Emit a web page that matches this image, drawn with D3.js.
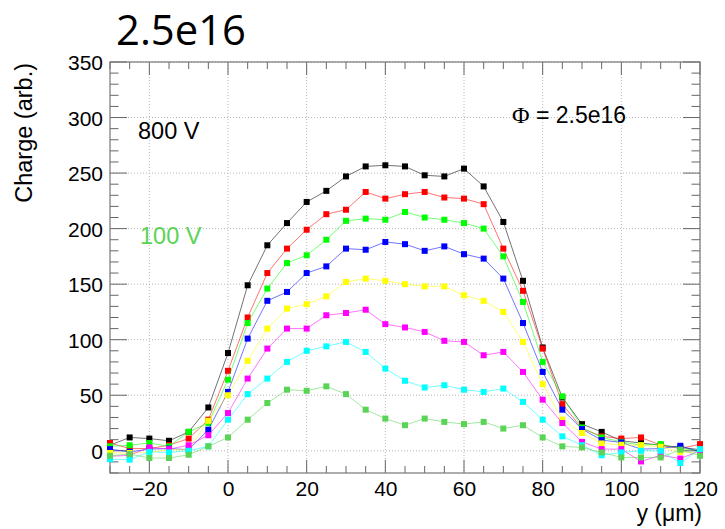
<!DOCTYPE html>
<html><head><meta charset="utf-8">
<script src="https://cdn.jsdelivr.net/npm/d3@7"></script>
<style>body{margin:0;background:#fff}svg{display:block}</style>
</head><body>
<svg id="c" width="725" height="529"></svg>
<script>
const yPos = [-30,-25,-20,-15,-10,-5,0,5,10,15,20,25,30,35,40,45,50,55,60,65,70,75,80,85,90,95,100,105,110,115,120];
const v800 = [5,12,11,9,17,39,88,149,185,205,224,234,247,256,257,256,248,247,254,238,206,153,93,48,24,17,9,7,5,3,1];
const v700 = [7,2,2,5,11,28,72,120,160,182,199,213,217,233,227,231,233,228,227,222,182,144,92,42,20,13,11,12,5,2,6];
const v600 = [4,5,7,4,17,25,64,115,146,169,176,190,207,209,208,215,210,208,205,200,175,134,80,49,21,12,8,5,6,2,0];
const v500 = [1.5,-1,1.5,2,1,19,53,101,135,143,160,166,182,181,188,186,180,184,177,173,155,115,71,37,19.5,9.6,7.5,1.5,2,4.5,-1];
const v400 = [-2,-2,-1.5,1,1,27,50,81,110,128,132,139,152,155,153,150,148,148,140,135,125,98,60,28,16,6.6,5.4,5,3.6,-1,-2];
const v300 = [-5,-4,3,1.5,5,14,34,65,92,110,110,122,124,127,114,111,107,99,98,86,89,71,46,25,8,1.5,1.5,-9.6,-4,-7,0];
const v200 = [-7.5,-8,-1,-1.5,0,4,28,51,65,80,90,94,98,89,74,63,57,59,55,53,56,44,28,13,5,-4,-1.5,0,0,-11,1.5];
const v100 = [-4.5,-3,-6.5,-6.5,-3.6,4,12,28,43,55,54,58,51,37,29,23,29,26,24,26,20,23,12,4,3,-1.5,-6,-6,-6,1,-4.5];
const seriesNames = ["800 V","700 V","600 V","500 V","400 V","300 V","200 V","100 V"];
const seriesColors = ["#000000","#ff0000","#00ff00","#0000ff","#ffff00","#ff00ff","#00ffff","#59d454"];
const seriesValues = [v800,v700,v600,v500,v400,v300,v200,v100];
const xMajor = [-20,0,20,40,60,80,100,120];
const yMajor = [0,50,100,150,200,250,300,350];

const L=110,R=700,T=62,B=473;
const svg = d3.select("#c");
const x = d3.scaleLinear().domain([-30,120]).range([L,R]);
const y = d3.scaleLinear().domain([-20,350]).range([B,T]);
const font = "'Liberation Sans', Arial, Helvetica, sans-serif";

// grid
const grid = svg.append("g").attr("stroke","#b8b8b8").attr("stroke-width",1).attr("stroke-dasharray","1,2");
xMajor.forEach(v=>grid.append("line").attr("x1",x(v)).attr("x2",x(v)).attr("y1",T).attr("y2",B));
yMajor.forEach(v=>grid.append("line").attr("x1",L).attr("x2",R).attr("y1",y(v)).attr("y2",y(v)));

// ticks (inside, all four sides)
const xMinor = d3.range(-30,121,5);
const yMinor = d3.range(-20,351,10);
const tg = svg.append("g").attr("stroke","#666").attr("stroke-width",1);
xMinor.forEach(v=>{
  const len = xMajor.includes(v)?13:7;
  tg.append("line").attr("x1",x(v)).attr("x2",x(v)).attr("y1",B).attr("y2",B-len);
  tg.append("line").attr("x1",x(v)).attr("x2",x(v)).attr("y1",T).attr("y2",T+len);
});
yMinor.forEach(v=>{
  const len = yMajor.includes(v)?17:8.5;
  tg.append("line").attr("x1",L).attr("x2",L+len).attr("y1",y(v)).attr("y2",y(v));
  tg.append("line").attr("x1",R).attr("x2",R-len).attr("y1",y(v)).attr("y2",y(v));
});

// axis labels
const xAxis = d3.axisBottom(x).tickValues(xMajor).tickSize(0).tickPadding(0)
  .tickFormat(d=>d<0?"\u2212"+Math.abs(d):String(d));
const gx = svg.append("g").attr("transform",`translate(0,${B})`).call(xAxis);
gx.select(".domain").remove();
gx.selectAll("text").attr("font-family",font).attr("font-size",21).attr("fill","#000").attr("dy",null).attr("y",23);
const yAxis = d3.axisLeft(y).tickValues(yMajor).tickSize(0).tickPadding(0);
const gy = svg.append("g").attr("transform",`translate(${L-7},0)`).call(yAxis);
gy.select(".domain").remove();
gy.selectAll("text").attr("font-family",font).attr("font-size",21).attr("fill","#000").attr("dy","0.36em");

// frame
svg.append("rect").attr("x",L).attr("y",T).attr("width",R-L).attr("height",B-T)
  .attr("fill","none").attr("stroke","#777").attr("stroke-width",1.2);

// series
const line = d3.line().x((d,i)=>x(yPos[i])).y(d=>y(d));
seriesValues.forEach((vals,k)=>{
  const g = svg.append("g");
  g.append("path").datum(vals).attr("d",line).attr("fill","none")
    .attr("stroke",seriesColors[k]).attr("stroke-width",1).attr("stroke-opacity",0.55);
  g.selectAll("rect").data(vals).join("rect")
    .attr("x",(d,i)=>x(yPos[i])-3).attr("y",d=>y(d)-3).attr("width",6).attr("height",6)
    .attr("fill",seriesColors[k]);
});

// texts
svg.append("text").attr("x",116).attr("y",45).attr("font-family","'Open Sans', 'Noto Sans', sans-serif")
  .attr("font-size",42).attr("textLength",130).attr("lengthAdjust","spacingAndGlyphs").attr("fill","#000").text("2.5e16");
svg.append("text").attr("transform","translate(32,63) rotate(-90)").attr("text-anchor","end")
  .attr("font-family",font).attr("font-size",23.5).attr("fill","#000").text("Charge (arb.)");
svg.append("text").attr("x",R+2).attr("y",521).attr("text-anchor","end")
  .attr("font-family",font).attr("font-size",23).attr("fill","#000").text("y (\u03bcm)");
svg.append("text").attr("x",138).attr("y",139).attr("font-family",font).attr("font-size",23.5)
  .attr("fill",seriesColors[0]).text(seriesNames[0]);
svg.append("text").attr("x",140).attr("y",244).attr("font-family",font).attr("font-size",23.5)
  .attr("fill",seriesColors[7]).text(seriesNames[7]);
const phi = svg.append("text").attr("x",512).attr("y",123).attr("font-family",font).attr("font-size",23)
  .attr("fill","#000");
phi.append("tspan").attr("font-family","'Liberation Serif', 'DejaVu Serif', serif").attr("font-size",24).text("\u03a6");
phi.append("tspan").text(" = 2.5e16");
</script>
</body></html>
